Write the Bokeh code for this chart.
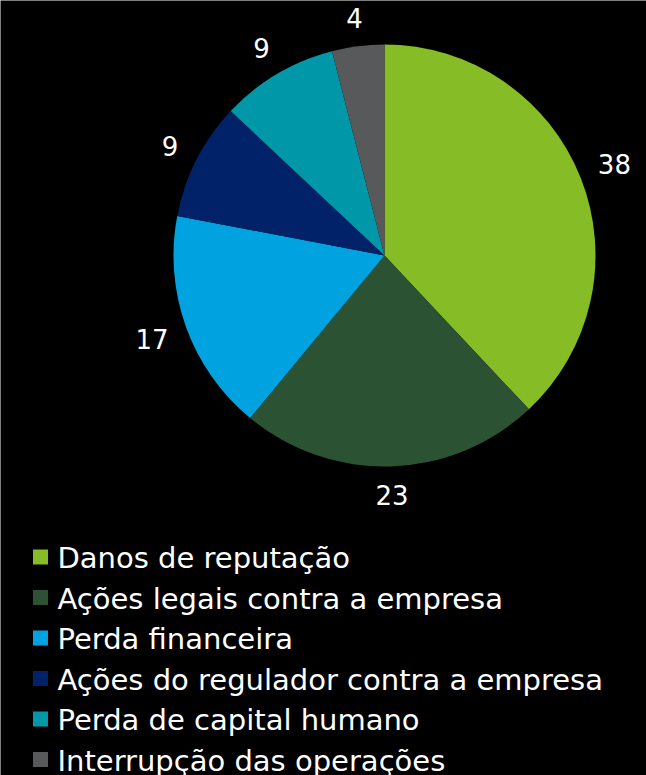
import math
from bokeh.plotting import figure
from bokeh.models import Range1d, ColumnDataSource
from bokeh.core.properties import value
from bokeh.embed import file_html
from bokeh.resources import INLINE

categories = ["Danos de reputação", "Ações legais contra a empresa", "Perda financeira",
              "Ações do regulador contra a empresa", "Perda de capital humano",
              "Interrupção das operações"]
values = [38, 23, 17, 9, 9, 4]
colors = ["#86BC25", "#2C5234", "#00A3E0", "#012169", "#0097A9", "#58595B"]

W, H = 646, 775
FONT = "DejaVu Sans"
LABEL_PX = 26
LEGEND_PX = 29

p = figure(width=W, height=H, output_backend="svg", toolbar_location=None,
           x_range=Range1d(0, W), y_range=Range1d(-H, 0),
           min_border=0, background_fill_color="black", border_fill_color="black",
           outline_line_color=None)
p.axis.visible = False
p.grid.visible = False

cx, cy, r = 384, -255, 211
total = sum(values)
starts, ends, lx, ly, lt = [], [], [], [], []
cum = 0
for v in values:
    a0 = math.pi / 2 - 2 * math.pi * cum / total
    cum += v
    a1 = math.pi / 2 - 2 * math.pi * cum / total
    starts.append(a0)
    ends.append(a1)
    mid = (a0 + a1) / 2
    txt = str(v)
    R = 230 + 7.5 * len(txt) * abs(math.cos(mid)) + 9 * abs(math.sin(mid))
    lx.append(cx + R * math.cos(mid))
    ly.append(cy + R * math.sin(mid))
    lt.append(txt)

src = ColumnDataSource(dict(start=starts, end=ends, color=colors))
p.wedge(x=cx, y=cy, radius=r, start_angle="start", end_angle="end",
        direction="clock", fill_color="color", line_color=None, source=src)

p.text(x=lx, y=ly, text=lt, text_color="white", text_font=value(FONT),
       text_font_size=f"{LABEL_PX}px", text_align="center", text_baseline="middle")

# legend
n = len(categories)
sq_y = [-(556.5 + 40.5 * i) for i in range(n)]
p.scatter(x=[40] * n, y=sq_y, marker="square", size=15,
          fill_color=colors, line_color=None)
p.text(x=[57] * n, y=[y - 1 for y in sq_y], text=categories, text_color="white",
       text_font=value(FONT), text_font_size=f"{LEGEND_PX}px", text_align="left",
       text_baseline="middle")

open("out.html", "w").write(file_html(p, INLINE))
